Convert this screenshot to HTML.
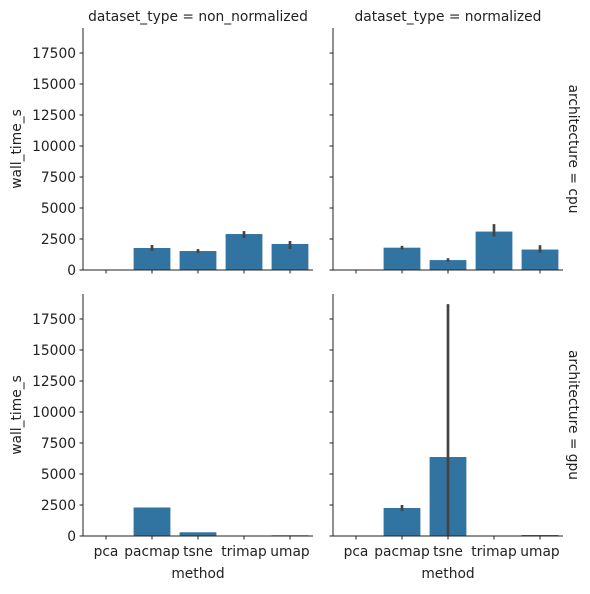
<!DOCTYPE html>
<html><head><meta charset="utf-8"><style>
body{margin:0;background:#fff}
svg text{font-family:"DejaVu Sans","Liberation Sans",sans-serif;font-size:13.8px;fill:#222}
</style></head><body>
<svg id="c" width="590" height="589"></svg>
<script>
const categories=["pca","pacmap","tsne","trimap","umap"];
const yTicks=[0,2500,5000,7500,10000,12500,15000,17500];
const colTitles=["dataset_type = non_normalized","dataset_type = normalized"];
const rowTitles=["architecture = cpu","architecture = gpu"];
const cpuNonMean=[0,1775,1530,2900,2100];
const cpuNonLo=[0,1530,1370,2580,1690];
const cpuNonHi=[0,2015,1690,3140,2340];
const cpuNormMean=[0,1800,800,3100,1650];
const cpuNormLo=[0,1650,680,2700,1400];
const cpuNormHi=[0,1950,950,3700,2000];
const gpuNonMean=[0,2300,300,20,60];
const gpuNonLo=[0,2300,300,20,60];
const gpuNonHi=[0,2300,300,20,60];
const gpuNormMean=[0,2260,6370,10,80];
const gpuNormLo=[0,2015,0,10,80];
const gpuNormHi=[0,2500,18700,10,80];
const panels=[
 {r:0,c:0,m:cpuNonMean,lo:cpuNonLo,hi:cpuNonHi},
 {r:0,c:1,m:cpuNormMean,lo:cpuNormLo,hi:cpuNormHi},
 {r:1,c:0,m:gpuNonMean,lo:gpuNonLo,hi:gpuNonHi},
 {r:1,c:1,m:gpuNormMean,lo:gpuNormLo,hi:gpuNormHi}];
const svg=document.getElementById('c');const NS="http://www.w3.org/2000/svg";
function el(t,a,p){const e=document.createElementNS(NS,t);for(const k in a)e.setAttribute(k,a[k]);(p||svg).appendChild(e);return e;}
const X0=[83,333],W=230,B=[270,536],H=242;
const ppu=217/17500;
panels.forEach(p=>{
 const x0=X0[p.c],b=B[p.r];
 const g=el('g',{});
 
 
 const xs=i=>x0+46*(i+0.5);const ys=v=>b-v*ppu;
 p.m.forEach((v,i)=>{
  const r=el('rect',{x:xs(i)-18.4,y:ys(v),width:36.8,height:v*ppu,fill:'#3274a1'},g);
  
  
  if(p.hi[i]>p.lo[i]){
   const l=el('line',{x1:xs(i),x2:xs(i),y1:ys(p.lo[i]),y2:ys(p.hi[i]),stroke:'#444','stroke-width':2.7},g);
   
   
  }
 });
 el('line',{x1:x0,x2:x0,y1:b-H,y2:b,stroke:'#222','stroke-width':1},g);
 el('line',{x1:x0,x2:x0+W,y1:b,y2:b,stroke:'#222','stroke-width':1},g);
 yTicks.forEach(t=>{el('line',{x1:x0-3.5,x2:x0,y1:ys(t),y2:ys(t),stroke:'#222'},g);
  if(p.c==0){const tx=el('text',{x:x0-7,y:ys(t)+5,'text-anchor':'end'},g);tx.textContent=t;}});
 categories.forEach((c,i)=>{el('line',{x1:xs(i),x2:xs(i),y1:b,y2:b+3.5,stroke:'#222'},g);
  if(p.r==1){const tx=el('text',{x:xs(i),y:b+20,'text-anchor':'middle'},g);tx.textContent=c;}});
 if(p.r==1){const t=el('text',{x:x0+W/2,y:578,'text-anchor':'middle'},g);t.textContent='method';
  }
 if(p.c==0){const t=el('text',{transform:`translate(21,${b-H/2}) rotate(-90)`,'text-anchor':'middle'},g);t.textContent='wall_time_s';
  }
 if(p.r==0){const t=el('text',{x:x0+W/2,y:21,'text-anchor':'middle'},g);t.textContent=colTitles[p.c];
  }
 if(p.c==1){const t=el('text',{transform:`translate(569,${b-H/2}) rotate(90)`,'text-anchor':'middle'},g);t.textContent=rowTitles[p.r];
  }
});
</script>
</body></html>
